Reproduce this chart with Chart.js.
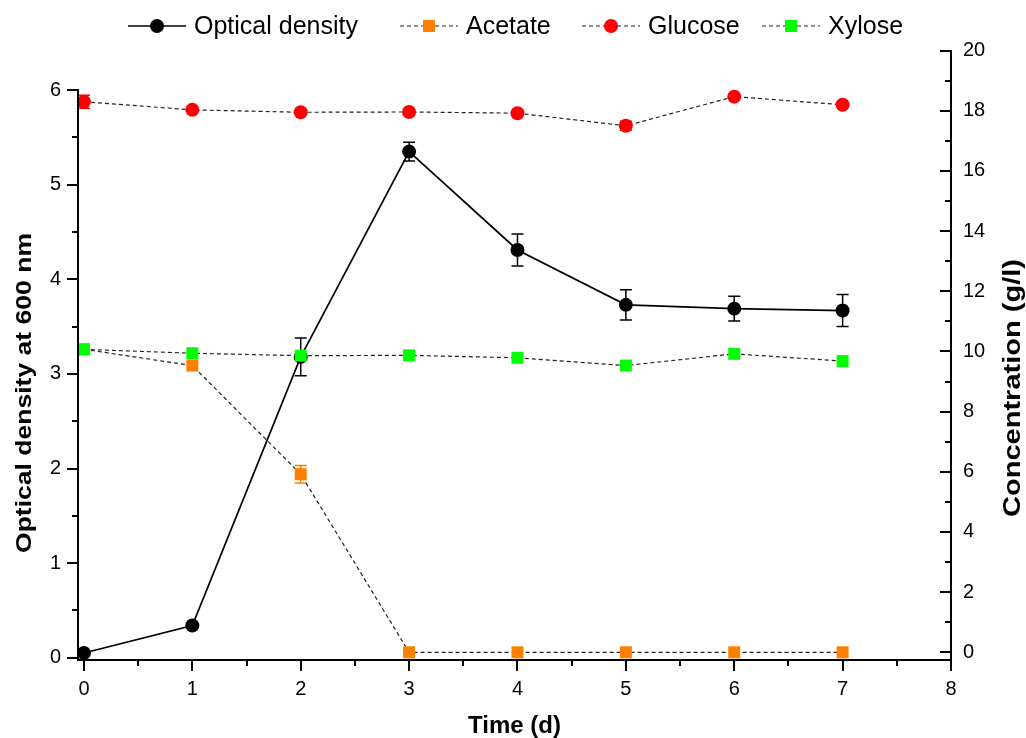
<!DOCTYPE html>
<html>
<head>
<meta charset="utf-8">
<script src="https://cdn.jsdelivr.net/npm/chart.js@4.4.0/dist/chart.umd.min.js"></script>
<style>
html, body { margin: 0; padding: 0; background: #fff; }
#wrap { width: 1026px; height: 738px; position: relative; }
</style>
</head>
<body>
<div id="wrap"><canvas id="chart"></canvas></div>
<script>
// time points (d)
const days = [0, 1, 2, 3, 4, 5, 6, 7];

// optical density at 600 nm (left axis)
const odValues = [0.05, 0.34, 3.18, 5.35, 4.31, 3.73, 3.69, 3.67];
const odErrors = [0, 0, 0.2, 0.1, 0.17, 0.16, 0.13, 0.17];

// concentrations in g/l (right axis)
const acetateValues = [10.07, 9.53, 5.92, 0, 0, 0, 0, 0];
const acetateErrors = [0.1, 0, 0.29, 0, 0, 0, 0, 0];
const glucoseValues = [18.3, 18.03, 17.95, 17.96, 17.92, 17.5, 18.47, 18.2];
const glucoseErrors = [0.22, 0, 0, 0, 0, 0.15, 0, 0];
const xyloseValues = [10.07, 9.94, 9.86, 9.87, 9.79, 9.53, 9.92, 9.68];
const xyloseErrors = [0, 0, 0, 0, 0, 0, 0, 0];

// tick lists
const xTicks = [0, 0.5, 1, 1.5, 2, 2.5, 3, 3.5, 4, 4.5, 5, 5.5, 6, 6.5, 7, 7.5, 8];
const odTicks = [0, 0.5, 1, 1.5, 2, 2.5, 3, 3.5, 4, 4.5, 5, 5.5, 6];
const concTicks = [0, 1, 2, 3, 4, 5, 6, 7, 8, 9, 10, 11, 12, 13, 14, 15, 16, 17, 18, 19, 20];

const labels = ['Optical density', 'Acetate', 'Glucose', 'Xylose'];
const legendStarts = [128, 400, 582, 762];

const FONT = "'Liberation Sans', Arial, sans-serif";
const DASH_COLOR = '#222';

const toPoints = vals => days.map((d, i) => ({ x: d, y: vals[i] }));

// error bars drawn under each dataset's markers
const errorBars = {
    id: 'errorBars',
    beforeDatasetDraw(chart, args) {
        const ds = chart.data.datasets[args.index];
        if (!ds.errors) return;
        const meta = args.meta;
        const yScale = chart.scales[ds.yAxisID];
        const ctx = chart.ctx;
        ctx.save();
        ctx.strokeStyle = ds.pointBackgroundColor;
        ctx.lineWidth = 1.5;
        ctx.setLineDash([]);
        ds.errors.forEach((e, i) => {
            if (!e) return;
            const px = meta.data[i].x;
            const top = yScale.getPixelForValue(ds.data[i].y + e);
            const bot = yScale.getPixelForValue(ds.data[i].y - e);
            ctx.beginPath();
            ctx.moveTo(px, top); ctx.lineTo(px, bot);
            ctx.moveTo(px - 6, top); ctx.lineTo(px + 6, top);
            ctx.moveTo(px - 6, bot); ctx.lineTo(px + 6, bot);
            ctx.stroke();
        });
        ctx.restore();
    }
};

// axis lines, ticks, titles, legend
const decorations = {
    id: 'decorations',
    afterDraw(chart) {
        const ctx = chart.ctx;
        const a = chart.chartArea;
        const xs = chart.scales.x, yl = chart.scales.yOD, yr = chart.scales.yConc;
        ctx.save();
        ctx.strokeStyle = '#000';
        ctx.lineWidth = 2;
        ctx.setLineDash([]);
        ctx.beginPath();
        ctx.moveTo(a.left - 1, a.bottom); ctx.lineTo(a.right + 1, a.bottom);
        ctx.moveTo(a.left, yl.getPixelForValue(6) - 1); ctx.lineTo(a.left, a.bottom + 1);
        ctx.moveTo(a.right, a.top); ctx.lineTo(a.right, a.bottom + 1);
        xTicks.forEach(v => {
            const p = Math.round(xs.getPixelForValue(v));
            ctx.moveTo(p, a.bottom); ctx.lineTo(p, a.bottom + (Number.isInteger(v) ? 11 : 6));
        });
        odTicks.forEach(v => {
            const p = Math.round(yl.getPixelForValue(v));
            ctx.moveTo(a.left, p); ctx.lineTo(a.left - (Number.isInteger(v) ? 11 : 6), p);
        });
        concTicks.forEach(v => {
            const p = Math.round(yr.getPixelForValue(v));
            ctx.moveTo(a.right, p); ctx.lineTo(a.right - (v % 2 === 0 ? 11 : 6), p);
        });
        ctx.stroke();

        // axis titles
        ctx.fillStyle = '#000';
        ctx.textAlign = 'center';
        ctx.textBaseline = 'middle';
        ctx.font = 'bold 24px ' + FONT;
        ctx.fillText('Time (d)', (a.left + a.right) / 2, 726);

        const vTitle = (text, x, y, size, len) => {
            ctx.save();
            ctx.font = 'bold ' + size + 'px ' + FONT;
            const w = ctx.measureText(text).width;
            ctx.translate(x, y);
            ctx.rotate(-Math.PI / 2);
            ctx.scale(len / w, 1);
            ctx.fillText(text, 0, 0);
            ctx.restore();
        };
        vTitle('Optical density at 600 nm', 25, 393, 22, 320);
        vTitle('Concentration (g/l)', 1013, 388, 24, 258);

        // legend
        const ly = 26;
        chart.data.datasets.forEach((ds, i) => {
            const sx = legendStarts[i];
            ctx.save();
            ctx.strokeStyle = ds.borderColor;
            ctx.lineWidth = ds.borderWidth;
            ctx.setLineDash(ds.borderDash || []);
            ctx.beginPath();
            ctx.moveTo(sx, ly); ctx.lineTo(sx + 58, ly);
            ctx.stroke();
            ctx.setLineDash([]);
            ctx.fillStyle = ds.pointBackgroundColor;
            Chart.helpers.drawPoint(ctx, {
                pointStyle: ds.pointStyle,
                radius: ds.pointStyle === 'rect' ? 8.5 : 7,
                rotation: 0,
                borderWidth: 0
            }, sx + 29, ly);
            ctx.fillStyle = '#000';
            ctx.font = '25px ' + FONT;
            ctx.textAlign = 'left';
            ctx.textBaseline = 'middle';
            ctx.fillText(labels[i], sx + 66, ly + 1);
            ctx.restore();
        });
        ctx.restore();
    }
};

const tickFont = { family: FONT, size: 20 };

new Chart(document.getElementById('chart'), {
    type: 'line',
    data: {
        datasets: [
            {
                label: labels[0],
                data: toPoints(odValues),
                errors: odErrors,
                yAxisID: 'yOD',
                borderColor: '#000',
                borderWidth: 1.7,
                pointStyle: 'circle',
                pointRadius: 7,
                pointBackgroundColor: '#000',
                pointBorderColor: '#000',
                pointBorderWidth: 0,
                order: 4
            },
            {
                label: labels[1],
                data: toPoints(acetateValues),
                errors: acetateErrors,
                yAxisID: 'yConc',
                borderColor: DASH_COLOR,
                borderWidth: 1.2,
                borderDash: [4, 3],
                pointStyle: 'rect',
                pointRadius: 8.5,
                pointBackgroundColor: '#FF8000',
                pointBorderColor: '#FF8000',
                pointBorderWidth: 0,
                order: 3
            },
            {
                label: labels[2],
                data: toPoints(glucoseValues),
                errors: glucoseErrors,
                yAxisID: 'yConc',
                borderColor: DASH_COLOR,
                borderWidth: 1.2,
                borderDash: [4, 3],
                pointStyle: 'circle',
                pointRadius: 7,
                pointBackgroundColor: '#FF0000',
                pointBorderColor: '#FF0000',
                pointBorderWidth: 0,
                order: 2
            },
            {
                label: labels[3],
                data: toPoints(xyloseValues),
                errors: xyloseErrors,
                yAxisID: 'yConc',
                borderColor: DASH_COLOR,
                borderWidth: 1.2,
                borderDash: [4, 3],
                pointStyle: 'rect',
                pointRadius: 8.5,
                pointBackgroundColor: '#00FF00',
                pointBorderColor: '#00FF00',
                pointBorderWidth: 0,
                order: 1
            }
        ]
    },
    options: {
        responsive: true,
        maintainAspectRatio: false,
        animation: false,
        layout: { padding: { top: 50, left: 0, right: 0, bottom: 0 } },
        plugins: {
            legend: { display: false },
            tooltip: { enabled: false }
        },
        elements: { line: { tension: 0 } },
        scales: {
            x: {
                type: 'linear',
                min: -0.055,
                max: 8,
                afterBuildTicks: s => { s.ticks = xTicks.map(v => ({ value: v })); },
                afterFit: s => { s.height = 78; },
                grid: { display: false, drawTicks: false },
                border: { display: false },
                ticks: {
                    autoSkip: false,
                    maxRotation: 0,
                    padding: 17,
                    color: '#000',
                    font: tickFont,
                    callback: v => Number.isInteger(v) ? v : ''
                }
            },
            yOD: {
                type: 'linear',
                position: 'left',
                min: -0.024,
                max: 6.424,
                afterBuildTicks: s => { s.ticks = odTicks.map(v => ({ value: v })); },
                afterFit: s => { s.width = 78; },
                grid: { display: false, drawTicks: false },
                border: { display: false },
                ticks: {
                    autoSkip: false,
                    padding: 17,
                    color: '#000',
                    font: tickFont,
                    callback: v => Number.isInteger(v) ? v : ''
                }
            },
            yConc: {
                type: 'linear',
                position: 'right',
                min: -0.256,
                max: 20.02,
                afterBuildTicks: s => { s.ticks = concTicks.map(v => ({ value: v })); },
                afterFit: s => { s.width = 75; },
                grid: { display: false, drawTicks: false },
                border: { display: false },
                ticks: {
                    autoSkip: false,
                    padding: 12,
                    color: '#000',
                    font: tickFont,
                    callback: v => v % 2 === 0 ? v : ''
                }
            }
        }
    },
    plugins: [errorBars, decorations]
});
</script>
</body>
</html>
